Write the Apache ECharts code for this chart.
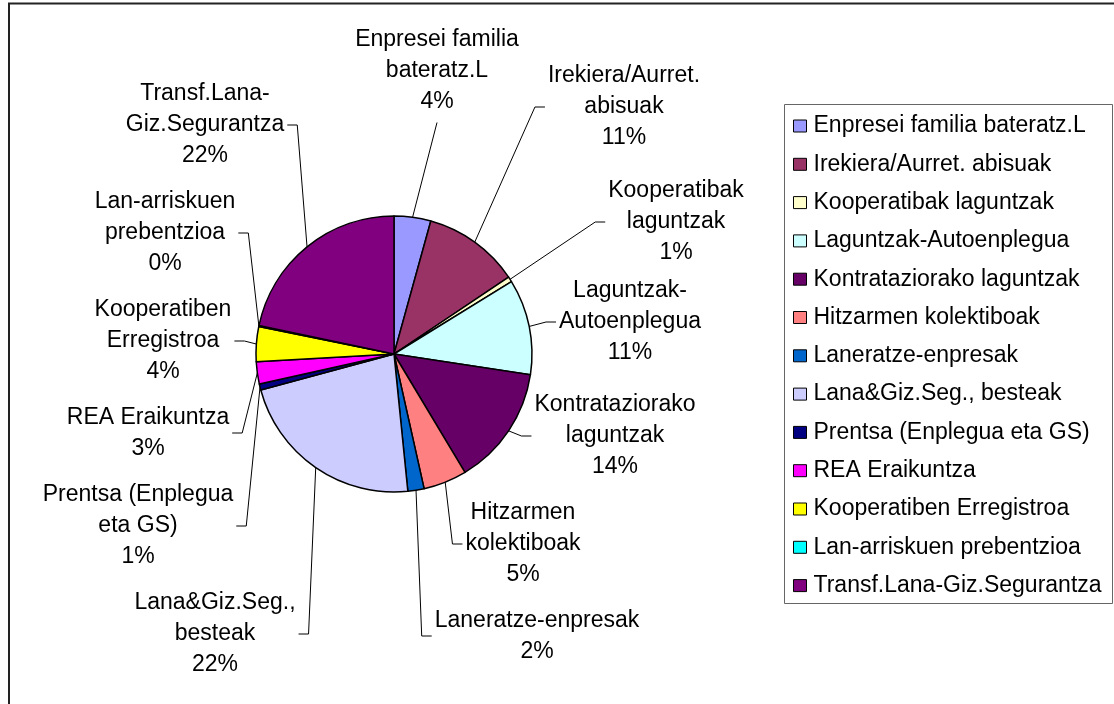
<!DOCTYPE html>
<html>
<head>
<meta charset="utf-8">
<script src="https://cdn.jsdelivr.net/npm/echarts@6/dist/echarts.min.js"></script>
<style>
  html, body { margin: 0; padding: 0; background: #fff; }
  #main { width: 1114px; height: 704px; }
</style>
</head>
<body>
<div id="main"></div>
<script>
// datuak (legend names, values in %)
const categories = [
  'Enpresei familia bateratz.L',
  'Irekiera/Aurret. abisuak',
  'Kooperatibak laguntzak',
  'Laguntzak-Autoenplegua',
  'Kontrataziorako laguntzak',
  'Hitzarmen kolektiboak',
  'Laneratze-enpresak',
  'Lana&Giz.Seg., besteak',
  'Prentsa (Enplegua eta GS)',
  'REA Eraikuntza',
  'Kooperatiben Erregistroa',
  'Lan-arriskuen prebentzioa',
  'Transf.Lana-Giz.Segurantza'
];

const values = [4.3, 11.3, 0.6, 11.2, 14.0, 5.1, 1.9, 22.4, 0.7, 2.6, 4.1, 0.1, 21.7];

// wrapped names as they appear next to the slices
const labelNames = [
  'Enpresei familia\nbateratz.L',
  'Irekiera/Aurret.\nabisuak',
  'Kooperatibak\nlaguntzak',
  'Laguntzak-\nAutoenplegua',
  'Kontrataziorako\nlaguntzak',
  'Hitzarmen\nkolektiboak',
  'Laneratze-enpresak',
  'Lana&Giz.Seg.,\nbesteak',
  'Prentsa (Enplegua\neta GS)',
  'REA Eraikuntza',
  'Kooperatiben\nErregistroa',
  'Lan-arriskuen\nprebentzioa',
  'Transf.Lana-\nGiz.Segurantza'
];

const colors = ['#9999FF', '#993366', '#FFFFCC', '#CCFFFF', '#660066', '#FF8080', '#0066CC',
  '#CCCCFF', '#000080', '#FF00FF', '#FFFF00', '#00FFFF', '#800080'];

// label centres (layout only)
const labelPos = [
  [437, 71], [624, 107], [676, 222], [630, 322], [615, 436], [523, 544], [537, 636],
  [215, 634], [138, 526], [148, 433], [163, 341], [165, 233], [205, 125]
];

const FONT = '"Liberation Sans", Arial, sans-serif';
const cx = 394, cy = 354, R = 138;
const total = values.reduce((a, b) => a + b, 0);

function edgePoint(i) {
  let before = 0;
  for (let k = 0; k < i; k++) before += values[k];
  const a = (before + values[i] / 2) / total * 2 * Math.PI;
  return [cx + R * Math.sin(a), cy - R * Math.cos(a)];
}

const myChart = echarts.init(document.getElementById('main'));
const option = {
  animation: false,
  color: colors,
  graphic: [
    {
      type: 'rect', silent: true,
      shape: { x: 9, y: 3.5, width: 1200, height: 800 },
      style: { fill: 'none', stroke: '#222', lineWidth: 2 }
    },
    {
      type: 'rect', silent: true,
      shape: { x: 784.5, y: 104.5, width: 328, height: 499 },
      style: { fill: '#fff', stroke: '#666', lineWidth: 1 },
      z: -1
    }
  ],
  legend: {
    orient: 'vertical',
    left: 793,
    top: 113,
    padding: 0,
    itemGap: 12.3,
    itemWidth: 13,
    itemHeight: 12,
    icon: 'rect',
    selectedMode: false,
    itemStyle: { borderColor: '#000', borderWidth: 1 },
    textStyle: { fontSize: 23, lineHeight: 26, color: '#000', fontFamily: FONT, padding: [0, 0, 0, 2] },
    data: categories
  },
  series: [
    {
      type: 'pie',
      center: [cx, cy],
      radius: R,
      startAngle: 90,
      clockwise: true,
      avoidLabelOverlap: false,
      emphasis: { disabled: true },
      itemStyle: { borderColor: '#000', borderWidth: 1.5 },
      label: {
        show: true,
        position: 'outside',
        color: '#000',
        fontSize: 23,
        lineHeight: 31,
        fontFamily: FONT,
        align: 'center',
        formatter: function (p) {
          return labelNames[p.dataIndex] + '\n' + Math.round(p.value / total * 100) + '%';
        }
      },
      labelLine: {
        show: true,
        length: 10,
        length2: 10,
        lineStyle: { color: '#000', width: 1 }
      },
      labelLayout: function (params) {
        const i = params.dataIndex;
        const lx = labelPos[i][0], ly = labelPos[i][1];
        const w = params.labelRect.width, h = params.labelRect.height;
        const p0 = edgePoint(i);
        let pts;
        if (p0[0] > lx - w / 2 && p0[0] < lx + w / 2) {
          pts = [p0, [lx, ly + h / 2 + 5]];
        } else if (lx > p0[0]) {
          const ex = lx - w / 2 - 3;
          pts = [p0, [ex - 10, ly], [ex, ly]];
        } else {
          const ex = lx + w / 2 + 3;
          pts = [p0, [ex + 10, ly], [ex, ly]];
        }
        return { x: lx, y: ly, align: 'center', verticalAlign: 'middle', labelLinePoints: pts };
      },
      data: categories.map((name, i) => ({ name: name, value: values[i] }))
    }
  ]
};
option && myChart.setOption(option);
</script>
</body>
</html>
